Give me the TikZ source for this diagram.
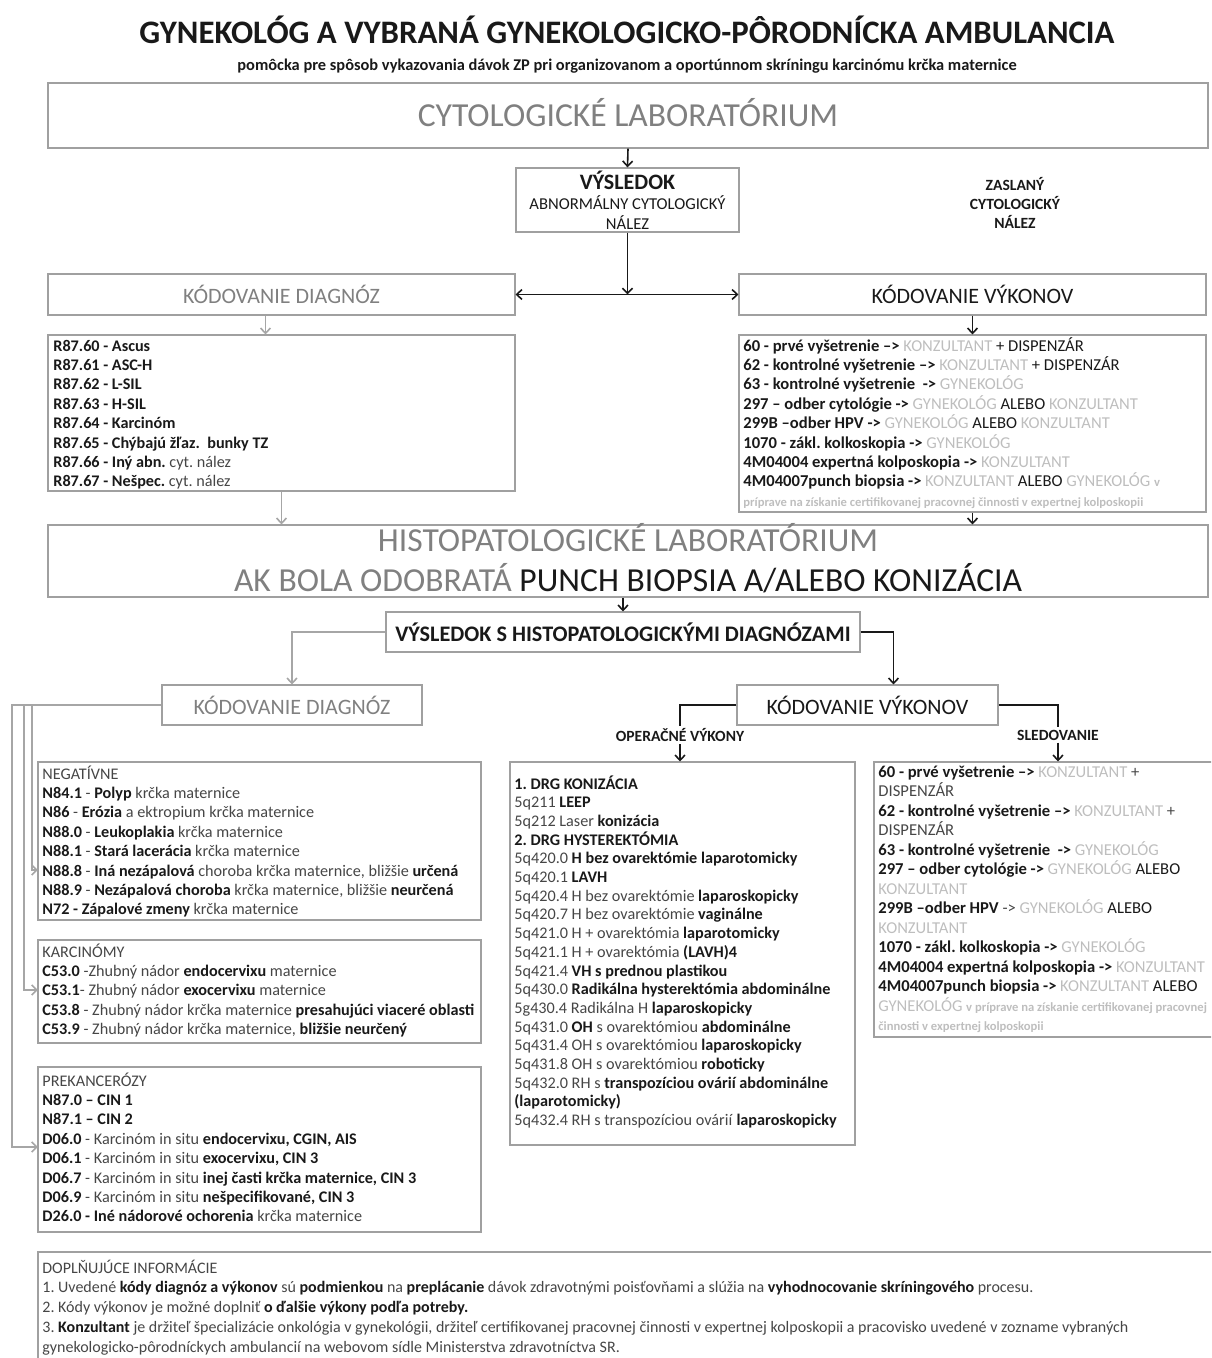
\documentclass[tikz,border=0pt]{standalone}
\usepackage{fontspec}
\setmainfont{Carlito}
\usepackage{tikz}
\usetikzlibrary{positioning, arrows.meta, fit}

\definecolor{ramsiva}{RGB}{160,160,160}
\definecolor{nadpsiva}{RGB}{128,128,128}
\definecolor{textsiva}{RGB}{70,70,70}
\definecolor{svsiva}{RGB}{190,190,190}
\definecolor{tmava}{RGB}{25,25,25}

\newcommand{\kbold}[1]{\textbf{\color{tmava}#1}}
\newcommand{\svet}[1]{\textcolor{svsiva}{\mdseries #1}}
\newcommand{\telo}{\fontsize{8.1}{9.7}\selectfont}
\newcommand{\drobne}{\fontsize{6.3}{9.7}\selectfont}

\begin{document}
\frenchspacing
\begin{tikzpicture}[x=0.5pt, y=-0.5pt,
    ramec/.style={draw=ramsiva, line width=0.6pt, inner sep=0pt},
    zoznam/.style={anchor=base west, inner sep=0pt, text width=600pt, align=flush left, text=textsiva, font=\telo},
    hlavicka/.style={font=\fontsize{11}{13}\selectfont},
    spoj/.style={line width=0.8pt, draw=tmava},
    sedyspoj/.style={line width=0.8pt, draw=gray!70},
    >={Straight Barb[length=2.6pt, width=5pt]}]
  \useasboundingbox (0,0) rectangle (1211,1358);
  \clip (0,0) rectangle (1211,1358);

  % nadpis
  \node[font=\fontsize{16.4}{19}\bfseries\selectfont, text=tmava] (nadpis) at (627,30)
    {GYNEKOLÓG A VYBRANÁ GYNEKOLOGICKO-PÔRODNÍCKA AMBULANCIA};
  \node[font=\fontsize{8.2}{9}\bfseries\selectfont, text=tmava] (podnadpis) at (627,66)
    {pomôcka pre spôsob vykazovania dávok ZP pri organizovanom a oportúnnom skríningu karcinómu krčka maternice};

  % cytologia
  \node[ramec, fit={(48,83) (1208,148)}] (cyto) {};
  \node[font=\fontsize{16.8}{19}\selectfont, text=nadpsiva] (cytot) at ([yshift=1.5pt]cyto.center) {CYTOLOGICKÉ LABORATÓRIUM};
  \node[ramec, fit={(516,168) (739,232)}] (vysl) {};
  \node[align=center, text=tmava, font=\fontsize{8.3}{10}\selectfont] (vyslt) at (vysl.center)
    {{\fontsize{11}{12}\bfseries\selectfont VÝSLEDOK}\\ABNORMÁLNY CYTOLOGICKÝ\\NÁLEZ};
  \node[align=center, text=tmava, font=\fontsize{7.8}{9.6}\bfseries\selectfont] (zaslany) at (1015,203)
    {ZASLANÝ\\CYTOLOGICKÝ\\NÁLEZ};

  \node[ramec, fit={(48,274) (515,315)}] (kdiag) {};
  \node[hlavicka, text=nadpsiva] (kdiagt) at (kdiag.center) {KÓDOVANIE DIAGNÓZ};
  \node[ramec, fit={(739,274) (1206,315)}] (kvyk) {};
  \node[hlavicka, text=tmava] (kvykt) at (kvyk.center) {KÓDOVANIE VÝKONOV};

  \node[ramec, fit={(48,335) (515,491)}] (r87) {};
  \node[zoznam, text=tmava, font=\bfseries\telo] (r87t) at (53,351)
    {R87.60 - Ascus\\
     R87.61 - ASC-H\\
     R87.62 - L-SIL\\
     R87.63 - H-SIL\\
     R87.64 - Karcinóm\\
     R87.65 - Chýbajú žľaz.\ \ bunky TZ\\
     R87.66 - Iný abn. \textcolor{textsiva}{\mdseries cyt. nález}\\
     R87.67 - Nešpec. \textcolor{textsiva}{\mdseries cyt. nález}};

  \node[ramec, fit={(739,335) (1206,512)}] (vyk) {};
  \node[zoznam, text=tmava, font=\fontsize{8.3}{9.7}\selectfont] (vykt) at (743,351)
    {\textbf{60 - prvé vyšetrenie –>} \svet{KONZULTANT} + DISPENZÁR\\
     \textbf{62 - kontrolné vyšetrenie –>} \svet{KONZULTANT} + DISPENZÁR\\
     \textbf{63 - kontrolné vyšetrenie \ ->} \svet{GYNEKOLÓG}\\
     \textbf{297 – odber cytológie ->} \svet{GYNEKOLÓG} ALEBO \svet{KONZULTANT}\\
     \textbf{299B –odber HPV ->} \svet{GYNEKOLÓG} ALEBO \svet{KONZULTANT}\\
     \textbf{1070 - zákl. kolkoskopia ->} \svet{GYNEKOLÓG}\\
     \textbf{4M04004 expertná kolposkopia ->} \svet{KONZULTANT}\\
     \textbf{4M04007punch biopsia ->} \svet{KONZULTANT} ALEBO \svet{GYNEKOLÓG} {\drobne\svet{\bfseries v}}\\
     {\drobne\svet{\bfseries príprave na získanie certifikovanej pracovnej činnosti v expertnej kolposkopii}}};

  % histopatologia
  \node[ramec, fit={(48,525) (1208,597)}] (histo) {};
  \node[align=center, text=nadpsiva, font=\fontsize{16.8}{20}\selectfont] (histot) at ([yshift=1.5pt]histo.center)
    {HISTOPATOLOGICKÉ LABORATÓRIUM\\AK BOLA ODOBRATÁ \textcolor{tmava}{PUNCH BIOPSIA A/ALEBO KONIZÁCIA}};
  \node[ramec, fit={(386,612) (860,652)}] (vyslh) {};
  \node[text=tmava, font=\fontsize{11.1}{13}\bfseries\selectfont] (vyslht) at (vyslh.center)
    {VÝSLEDOK S HISTOPATOLOGICKÝMI DIAGNÓZAMI};

  \node[ramec, fit={(162,685) (422,725)}] (kdiag2) {};
  \node[hlavicka, text=nadpsiva] (kdiag2t) at (kdiag2.center) {KÓDOVANIE DIAGNÓZ};
  \node[ramec, fit={(737,685) (998,725)}] (kvyk2) {};
  \node[hlavicka, text=tmava] (kvyk2t) at (kvyk2.center) {KÓDOVANIE VÝKONOV};
  \node[font=\fontsize{7.8}{9}\bfseries\selectfont, text=tmava, inner sep=1pt] (operl) at (680,735) {OPERAČNÉ VÝKONY};
  \node[font=\fontsize{7.8}{9}\bfseries\selectfont, text=tmava, inner sep=1pt] (sledl) at (1058,735) {SLEDOVANIE};

  % diagnozy
  \node[ramec, fit={(38,762) (481,920)}] (neg) {};
  \node[zoznam] (negt) at (42,779)
    {NEGATÍVNE\\
     \kbold{N84.1} - \kbold{Polyp} krčka maternice\\
     \kbold{N86} - \kbold{Erózia} a ektropium krčka maternice\\
     \kbold{N88.0} - \kbold{Leukoplakia} krčka maternice\\
     \kbold{N88.1} - \kbold{Stará lacerácia} krčka maternice\\
     \kbold{N88.8} - \kbold{Iná nezápalová} choroba krčka maternice, bližšie \kbold{určená}\\
     \kbold{N88.9} - \kbold{Nezápalová choroba} krčka maternice, bližšie \kbold{neurčená}\\
     \kbold{N72 - Zápalové zmeny} krčka maternice};

  \node[ramec, fit={(38,940) (481,1043)}] (kar) {};
  \node[zoznam] (kart) at (42,957)
    {KARCINÓMY\\
     \kbold{C53.0} -Zhubný nádor \kbold{endocervixu} maternice\\
     \kbold{C53.1}- Zhubný nádor \kbold{exocervixu} maternice\\
     \kbold{C53.8} - Zhubný nádor krčka maternice \kbold{presahujúci viaceré oblasti}\\
     \kbold{C53.9} - Zhubný nádor krčka maternice, \kbold{bližšie neurčený}};

  \node[ramec, fit={(38,1067) (481,1232)}] (prek) {};
  \node[zoznam] (prekt) at (42,1086)
    {PREKANCERÓZY\\
     \kbold{N87.0 – CIN 1}\\
     \kbold{N87.1 – CIN 2}\\
     \kbold{D06.0} - Karcinóm in situ \kbold{endocervixu, CGIN, AIS}\\
     \kbold{D06.1} - Karcinóm in situ \kbold{exocervixu, CIN 3}\\
     \kbold{D06.7} - Karcinóm in situ \kbold{inej časti krčka maternice, CIN 3}\\
     \kbold{D06.9} - Karcinóm in situ \kbold{nešpecifikované, CIN 3}\\
     \kbold{D26.0 - Iné nádorové ochorenia} krčka maternice};

  % vykony
  \node[ramec, fit={(510,762) (855,1145)}] (oper) {};
  \node[zoznam, font=\fontsize{8.1}{9.35}\selectfont] (opert) at (514,789)
    {\kbold{1. DRG KONIZÁCIA}\\
     5q211 \kbold{LEEP}\\
     5q212 Laser \kbold{konizácia}\\
     \kbold{2. DRG HYSTEREKTÓMIA}\\
     5q420.0 \kbold{H bez ovarektómie laparotomicky}\\
     5q420.1 \kbold{LAVH}\\
     5q420.4 H bez ovarektómie \kbold{laparoskopicky}\\
     5q420.7 H bez ovarektómie \kbold{vaginálne}\\
     5q421.0 H + ovarektómia \kbold{laparotomicky}\\
     5q421.1 H + ovarektómia \kbold{(LAVH)4}\\
     5q421.4 \kbold{VH s prednou plastikou}\\
     5q430.0 \kbold{Radikálna hysterektómia abdominálne}\\
     5g430.4 Radikálna H \kbold{laparoskopicky}\\
     5q431.0 \kbold{OH} s ovarektómiou \kbold{abdominálne}\\
     5q431.4 OH s ovarektómiou \kbold{laparoskopicky}\\
     5q431.8 OH s ovarektómiou \kbold{roboticky}\\
     5q432.0 RH s \kbold{transpozíciou ovárií abdominálne}\\
     \kbold{(laparotomicky)}\\
     5q432.4 RH s transpozíciou ovárií \kbold{laparoskopicky}};

  \node[ramec, fit={(874,762) (1220,1037)}] (sled) {};
  \node[zoznam, font=\fontsize{8.3}{9.75}\selectfont] (sledt) at (878,777)
    {\kbold{60 - prvé vyšetrenie –>} \svet{KONZULTANT} +\\
     DISPENZÁR\\
     \kbold{62 - kontrolné vyšetrenie –>} \svet{KONZULTANT} +\\
     DISPENZÁR\\
     \kbold{63 - kontrolné vyšetrenie \ ->} \svet{GYNEKOLÓG}\\
     \kbold{297 – odber cytológie ->} \svet{GYNEKOLÓG} \textcolor{tmava}{ALEBO}\\
     \svet{KONZULTANT}\\
     \kbold{299B –odber HPV} -> \svet{GYNEKOLÓG} \textcolor{tmava}{ALEBO}\\
     \svet{KONZULTANT}\\
     \kbold{1070 - zákl. kolkoskopia ->} \svet{GYNEKOLÓG}\\
     \kbold{4M04004 expertná kolposkopia ->} \svet{KONZULTANT}\\
     \kbold{4M04007punch biopsia ->} \svet{KONZULTANT} \textcolor{tmava}{ALEBO}\\
     \svet{GYNEKOLÓG} {\drobne\svet{\bfseries v príprave na získanie certifikovanej pracovnej}}\\
     {\drobne\svet{\bfseries činnosti v expertnej kolposkopii}}};

  % doplnujuce informacie
  \node[ramec, fit={(38,1252) (1220,1380)}] (dopl) {};
  \node[zoznam, font=\fontsize{8}{9.9}\selectfont] (doplt) at (42,1273)
    {DOPLŇUJÚCE INFORMÁCIE\\
     1. Uvedené \kbold{kódy diagnóz a výkonov} sú \kbold{podmienkou} na \kbold{preplácanie} dávok zdravotnými poisťovňami a slúžia na \kbold{vyhodnocovanie skríningového} procesu.\\
     2. Kódy výkonov je možné doplniť \kbold{o ďalšie výkony podľa potreby.}\\
     3. \kbold{Konzultant} je držiteľ špecializácie onkológia v gynekológii, držiteľ certifikovanej pracovnej činnosti v expertnej kolposkopii a pracovisko uvedené v zozname vybraných\\
     gynekologicko-pôrodníckych ambulancií na webovom sídle Ministerstva zdravotníctva SR.};

  % ciele sipok vlavo
  \coordinate (n888) at (38,870);
  \coordinate (c531) at (38,990);
  \coordinate (d060) at (38,1147);

  % spojnice
  \draw[spoj, ->] (cyto.south) -- (vysl.north);
  \draw[spoj, ->] (vysl.south) -- (vysl.south |- kdiag.east);
  \draw[spoj, <->] (kdiag.east) -- (kvyk.west);
  \draw[sedyspoj, ->] ([xshift=-8pt]kdiag.south) -- ([xshift=-8pt]r87.north);
  \draw[spoj, ->] (kvyk.south) -- (vyk.north);
  \draw[sedyspoj, ->] (r87.south) -- (r87.south |- histo.north);
  \draw[spoj, ->] (vyk.south) -- (vyk.south |- histo.north);
  \draw[spoj, ->] (vyslh.north |- histo.south) -- (vyslh.north);
  \draw[sedyspoj, ->] (vyslh.west) -| (kdiag2.north);
  \draw[spoj, ->] (vyslh.east) -| ([xshift=13pt]kvyk2.north);
  \draw[spoj] (kvyk2.west) -| (operl.north);
  \draw[spoj, ->] (operl.south) -- (operl.south |- oper.north);
  \draw[spoj] (kvyk2.east) -| (sledl.north);
  \draw[spoj, ->] (sledl.south) -- (sledl.south |- sled.north);
  \draw[sedyspoj, ->] (kdiag2.west) -| ([xshift=-3pt]n888) -- (n888);
  \draw[sedyspoj, ->] (kdiag2.west) -| ([xshift=-7pt]c531) -- (c531);
  \draw[sedyspoj, ->] (kdiag2.west) -| ([xshift=-13pt]d060) -- (d060);
\end{tikzpicture}
\end{document}
